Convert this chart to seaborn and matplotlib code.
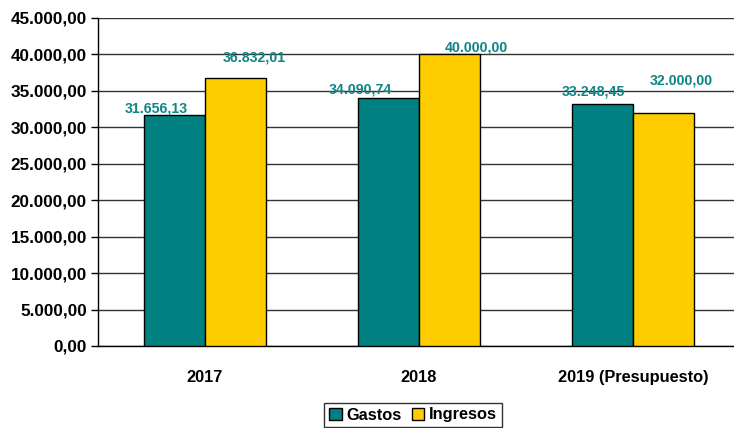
import matplotlib
matplotlib.use("Agg")
import matplotlib.pyplot as plt
import seaborn as sns
import pandas as pd
from matplotlib.patches import Patch
from matplotlib.ticker import FixedLocator

categories = ["2017", "2018", "2019 (Presupuesto)"]
gastos = [31656.13, 34090.74, 33248.45]
ingresos = [36832.01, 40000.00, 32000.00]
series = ["Gastos", "Ingresos"]
y_ticks = [0, 5000, 10000, 15000, 20000, 25000, 30000, 35000, 40000, 45000]

colors = {"Gastos": "#008080", "Ingresos": "#FFCC00"}

# label offsets in pixels (dx, dy) from bar top centre to label centre
offsets = {
    "Gastos": [(-18, 7), (-28, 8), (-9, 12)],
    "Ingresos": [(19, 20), (27, 7), (18, 32)],
}

df = pd.DataFrame({
    "cat": categories * 2,
    "serie": ["Gastos"] * 3 + ["Ingresos"] * 3,
    "valor": gastos + ingresos,
})

sns.set_style("white")
plt.rcParams["font.family"] = ["Liberation Sans", "DejaVu Sans"]
plt.rcParams["font.weight"] = "bold"
plt.rcParams["text.color"] = "black"
plt.rcParams["xtick.color"] = "black"
plt.rcParams["ytick.color"] = "black"
plt.rcParams["xtick.labelcolor"] = "black"
plt.rcParams["ytick.labelcolor"] = "black"


def fmt(v):
    return f"{v:,.2f}".replace(",", "X").replace(".", ",").replace("X", ".")


fig = plt.figure(figsize=(7.34, 4.28), dpi=100)
ax = fig.add_axes([98 / 734, 82 / 428, 642 / 734, 328 / 428])

sns.barplot(data=df, x="cat", y="valor", hue="serie", palette=colors,
            order=categories, hue_order=series, width=0.57,
            edgecolor="black", linewidth=1, saturation=1, ax=ax, legend=False,
            zorder=3)

ax.set_xlim(-0.5, 2.5)
ax.set_ylim(0, 45000)
ax.set_yticks(y_ticks)
ax.set_yticklabels([fmt(v) for v in y_ticks], fontsize=12.3, fontweight="bold", color="black")
ax.set_xticks(range(len(categories)))
ax.set_xticklabels(categories, fontsize=11.8, fontweight="bold", color="black")
ax.tick_params(axis="x", which="major", length=0, pad=17)
ax.xaxis.set_minor_locator(FixedLocator([-0.5, 0.5, 1.5]))
ax.tick_params(axis="x", which="minor", length=6, width=1, color="black", direction="out")
ax.tick_params(axis="y", which="major", length=5, width=1, color="black", direction="out", pad=3, left=True)
ax.set_xlabel("")
ax.set_ylabel("")

ax.yaxis.grid(True, color="#333333", linewidth=1, zorder=0)
ax.set_axisbelow(True)
ax.spines["right"].set_visible(False)
ax.spines["top"].set_visible(False)
ax.spines["left"].set_color("black")
ax.spines["left"].set_linewidth(1)
ax.spines["bottom"].set_color("black")
ax.spines["bottom"].set_linewidth(1)

vals = {"Gastos": gastos, "Ingresos": ingresos}
patches = ax.patches
for si, s in enumerate(series):
    for ci in range(len(categories)):
        p = patches[si * len(categories) + ci]
        xc = p.get_x() + p.get_width() / 2
        v = vals[s][ci]
        dx, dy = offsets[s][ci]
        ax.annotate(fmt(v), (xc, v), xytext=(dx, dy), textcoords="offset pixels",
                    ha="center", va="center", fontsize=10.2, fontweight="bold",
                    color="#108585", zorder=5, annotation_clip=False)

handles = [Patch(facecolor=colors[s], edgecolor="black", linewidth=1, label=s) for s in series]
leg = fig.legend(handles=handles, loc="center", bbox_to_anchor=(413 / 734, 1 - 415 / 428),
                 ncol=2, frameon=True, fancybox=False, fontsize=11.8,
                 handlelength=0.75, handleheight=0.75, handletextpad=0.3,
                 columnspacing=0.6, borderpad=0.3, borderaxespad=0)
leg.get_frame().set_edgecolor("black")
leg.get_frame().set_linewidth(1)
for t in leg.get_texts():
    t.set_fontweight("bold")
    t.set_color("black")

fig.savefig("out.png", dpi=100)
